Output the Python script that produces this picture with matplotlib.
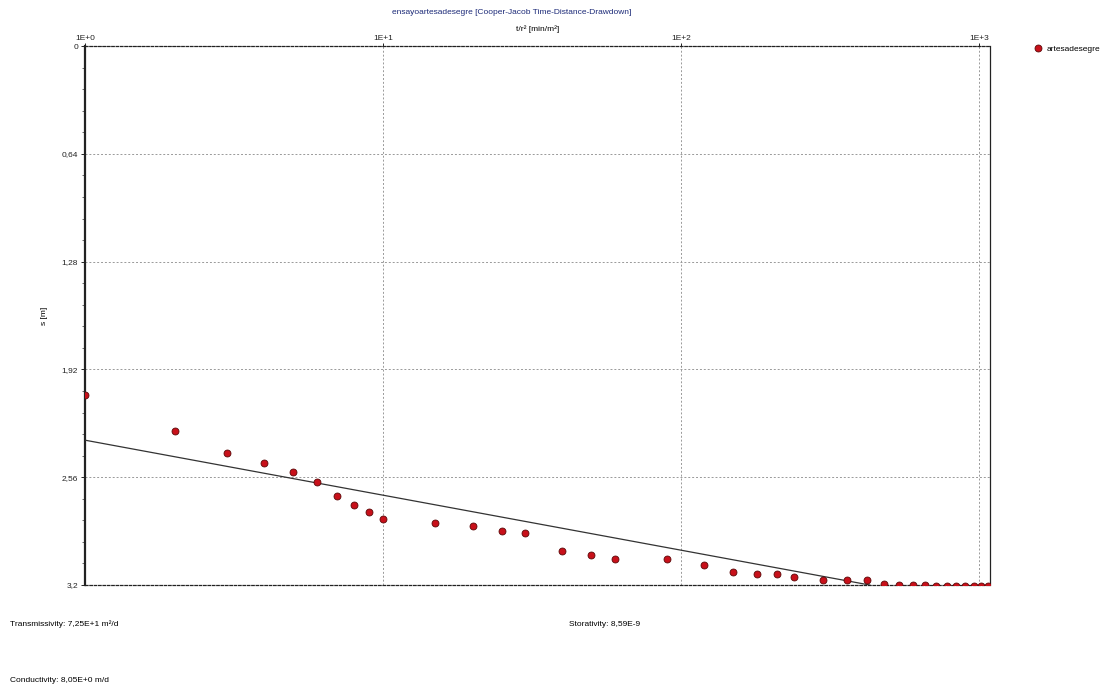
import numpy as np
import matplotlib
matplotlib.use("Agg")
import matplotlib.pyplot as plt
from matplotlib.ticker import FixedLocator, MultipleLocator

plt.rcParams["font.family"] = ["Liberation Sans Narrow", "Liberation Sans", "DejaVu Sans"]

# observed drawdown: t/r^2 [min/m^2] vs s [m]
t_r2 = [1, 2, 3, 4, 5, 6, 7, 8, 9, 10, 15, 20, 25, 30, 40, 50, 60, 90,
        120, 150, 180, 210, 240, 300, 360, 420, 480, 540, 600, 660, 720,
        780, 840, 900, 960, 1020, 1075]
drawdown = [2.07, 2.286, 2.417, 2.476, 2.527, 2.589, 2.669, 2.726, 2.767, 2.809,
            2.829, 2.850, 2.878, 2.892, 2.999, 3.021, 3.048, 3.048,
            3.080, 3.122, 3.137, 3.137, 3.151, 3.171, 3.171, 3.171, 3.193,
            3.200, 3.200, 3.200, 3.205, 3.205, 3.205, 3.205, 3.205, 3.205, 3.205]

# Cooper-Jacob straight line fit: s = a + b*log10(t/r2)
fit_intercept = 2.34
fit_slope = 0.3265

x_ticks = [1, 10, 100, 1000]
x_tick_labels = ["1E+0", "1E+1", "1E+2", "1E+3"]
y_ticks = [0, 0.64, 1.28, 1.92, 2.56, 3.2]
y_tick_labels = ["0", "0,64", "1,28", "1,92", "2,56", "3,2"]

title = "ensayoartesadesegre [Cooper-Jacob Time-Distance-Drawdown]"
series_name = "artesadesegre"
results = {
    "Transmissivity": "Transmissivity: 7,25E+1 m\u00b2/d",
    "Storativity": "Storativity: 8,59E-9",
    "Conductivity": "Conductivity: 8,05E+0 m/d",
}

fig = plt.figure(figsize=(11.07, 6.89), dpi=100)
ax = fig.add_axes([0.0768, 0.1509, 0.8175, 0.7823])

ax.set_xscale("log")
ax.set_xlim(1, 1090)
ax.set_ylim(3.2, 0)

# fitted line up to where it reaches the bottom of the axis
x_end = 10 ** ((3.2 - fit_intercept) / fit_slope)
xs = np.array([1.0, x_end])
ax.plot(xs, fit_intercept + fit_slope * np.log10(xs), color="#333333", lw=0.9, zorder=3)

ax.plot(t_r2, drawdown, ls="none", marker="o", ms=5.0, mfc="#c8101a",
        mec="#5a0808", mew=0.6, zorder=4)

ax.xaxis.tick_top()
ax.xaxis.set_label_position("top")
ax.xaxis.set_major_locator(FixedLocator(x_ticks))
ax.xaxis.set_minor_locator(FixedLocator([]))
ax.set_xticklabels(x_tick_labels)
ax.set_yticks(y_ticks)
ax.set_yticklabels(y_tick_labels)
ax.yaxis.set_minor_locator(MultipleLocator(0.128))
ax.tick_params(axis="x", which="major", labelsize=6, length=2, width=0.7, pad=1, colors="#222222")
ax.tick_params(axis="y", which="major", labelsize=6, length=3, width=0.7, pad=2, colors="#222222")
ax.tick_params(axis="y", which="minor", length=2, width=0.6, colors="#555555")

ax.set_xlabel("t/r\u00b2 [min/m\u00b2]", fontsize=6, labelpad=3)
ax.set_ylabel("s [m]", fontsize=6, labelpad=10)

ax.grid(True, which="major", color="#999999", ls=(0, (2, 2)), lw=0.7)
for side in ["top", "bottom"]:
    ax.spines[side].set_linestyle((0, (2, 1.5)))
    ax.spines[side].set_color("#222222")
    ax.spines[side].set_linewidth(0.9)
ax.spines["left"].set_linewidth(1.6)
ax.spines["left"].set_color("#222222")
ax.spines["right"].set_linewidth(0.9)
ax.spines["right"].set_color("#222222")

fig.text(512 / 1107, 1 - 12 / 689, title, ha="center", va="center", fontsize=6, color="#1c2a78")

# legend entry
ax.plot([], [], ls="none", marker="o", ms=5.0, mfc="#c8101a", mec="#5a0808", mew=0.6, label=series_name)
leg = ax.legend(loc="upper left", bbox_to_anchor=(1.04, 1.015), frameon=False, fontsize=6,
                handletextpad=0.6, handlelength=1.0)

fig.text(10 / 1107, 1 - 624 / 689, results["Transmissivity"], ha="left", va="center", fontsize=6)
fig.text(569 / 1107, 1 - 624 / 689, results["Storativity"], ha="left", va="center", fontsize=6)
fig.text(10 / 1107, 1 - 680 / 689, results["Conductivity"], ha="left", va="center", fontsize=6)

fig.savefig("out.png", dpi=100, facecolor="white")
